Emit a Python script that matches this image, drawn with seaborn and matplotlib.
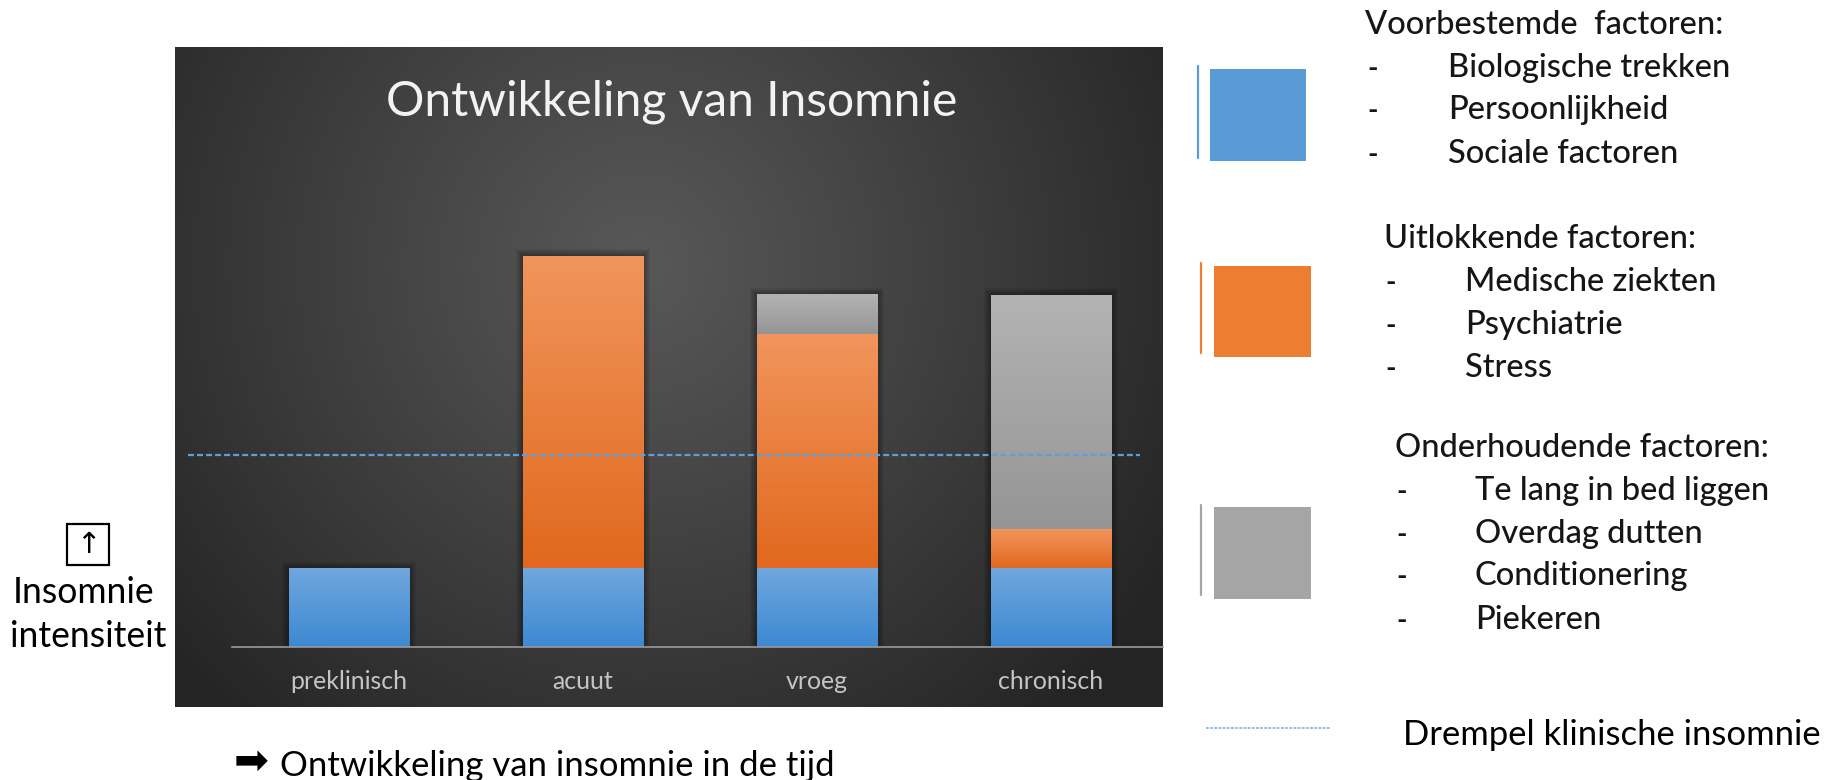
import numpy as np
import pandas as pd
import matplotlib
matplotlib.use("Agg")
import matplotlib.pyplot as plt
import seaborn as sns
from matplotlib.patches import Rectangle
from matplotlib.lines import Line2D

# ---- data -------------------------------------------------------------
stages = ["preklinisch", "acuut", "vroeg", "chronisch"]
voorbestemd = [2, 2, 2, 2]        # predisposing factors
uitlokkend = [0, 8, 6, 1]         # precipitating factors
onderhoudend = [0, 0, 1, 6]       # perpetuating factors
drempel = 4.9                     # clinical insomnia threshold

chart_title = "Ontwikkeling van Insomnie"
legend_blocks = [
    ("Voorbestemde  factoren:", ["Biologische trekken", "Persoonlijkheid", "Sociale factoren"]),
    ("Uitlokkende factoren:", ["Medische ziekten", "Psychiatrie", "Stress"]),
    ("Onderhoudende factoren:", ["Te lang in bed liggen", "Overdag dutten", "Conditionering", "Piekeren"]),
]
drempel_label = "Drempel klinische insomnie"
y_label_lines = ["Insomnie", "intensiteit"]
x_caption = "Ontwikkeling van insomnie in de tijd"

# ---- style --------------------------------------------------------------
BLUE, ORANGE, GRAY = "#5B9BD5", "#ED7D31", "#A5A5A5"
grad = {
    "blue": ("#70A7DD", "#3C89D3"),
    "orange": ("#F1955C", "#E1681E"),
    "gray": ("#B3B3B3", "#959595"),
}

W, H = 1841, 780
sns.set_theme(style="white")
plt.rcParams["font.family"] = ["Lato", "DejaVu Sans"]
plt.rcParams["lines.scale_dashes"] = False

fig = plt.figure(figsize=(W / 100, H / 100), dpi=100, facecolor="white")
renderer = fig.canvas.get_renderer()


def fx(x):
    return x / W


def fy(y):
    return 1 - y / H


def fit(t, width_px):
    w = t.get_window_extent(renderer).width
    t.set_fontsize(t.get_fontsize() * width_px / w)
    return t


# ---- dark panel with radial gradient ------------------------------------
pl, pr, pt, pb = 175, 1163, 47, 707
bg = fig.add_axes([fx(pl), fy(pb), fx(pr) - fx(pl), fy(pt) - fy(pb)])
yy, xx = np.mgrid[0:1:400j, 0:1:600j]
r = np.sqrt(((xx - 0.47) * (pr - pl)) ** 2 + ((yy - 0.33) * (pb - pt)) ** 2) / 620
r = np.clip(r, 0, 1)
inner = np.array([88, 88, 88]) / 255
outer = np.array([36, 36, 36]) / 255
img = inner + (outer - inner) * (r[..., None] ** 1.05)
bg.imshow(img, extent=[0, 1, 0, 1], origin="upper", aspect="auto")
bg.set_axis_off()

# ---- bar chart ------------------------------------------------------------
px_per_unit = 39.1
base_px = 647
ymax = 12
ax = fig.add_axes([fx(232), fy(base_px), fx(pr) - fx(232),
                   fy(base_px - ymax * px_per_unit) - fy(base_px)])
ax.patch.set_alpha(0)

df = pd.DataFrame({"stage": stages, "voorbestemd": voorbestemd,
                   "uitlokkend": uitlokkend, "onderhoudend": onderhoudend})
df["top1"] = df["voorbestemd"]
df["top2"] = df["top1"] + df["uitlokkend"]
df["top3"] = df["top2"] + df["onderhoudend"]

bar_w = 0.513
layers = [("top3", "top2", GRAY, "gray"),
          ("top2", "top1", ORANGE, "orange"),
          ("top1", None, BLUE, "blue")]
segments = []
for top_col, bot_col, col, key in layers:
    n0 = len(ax.patches)
    sns.barplot(data=df, x="stage", y=top_col, color=col, width=bar_w,
                order=stages, ax=ax, saturation=1, linewidth=0, zorder=3)
    new = ax.patches[n0:]
    tops = df[top_col].to_numpy()
    bots = df[bot_col].to_numpy() if bot_col else np.zeros(len(df))
    for p, t, b in zip(new, tops, bots):
        if t - b > 0:
            segments.append((p.get_x(), p.get_width(), b, t, key))

# soft shadow around each full bar
dx = 1 / 234
dy = 1 / px_per_unit
for i, total in enumerate(df["top3"]):
    x0 = i - bar_w / 2
    for k in range(1, 8):
        ax.add_patch(Rectangle((x0 - k * dx, 0), bar_w + 2 * k * dx, total + k * dy,
                               facecolor="black", edgecolor="none", alpha=0.05, zorder=2))

# vertical gradient fill on every stacked segment
for x0, w, b, t, key in segments:
    c_top = np.array(matplotlib.colors.to_rgb(grad[key][0]))
    c_bot = np.array(matplotlib.colors.to_rgb(grad[key][1]))
    s = np.linspace(0, 1, 128)[:, None, None]
    g = c_top + (c_bot - c_top) * s
    g = np.repeat(g, 2, axis=1)
    ax.imshow(g, extent=[x0, x0 + w, b, t], origin="upper", aspect="auto", zorder=4)

ax.set_xlim(-0.5, -0.5 + (pr - 232) / 234)
ax.set_ylim(0, ymax)
ax.set_xlabel("")
ax.set_ylabel("")
ax.set_yticks([])
for side in ["top", "left", "right"]:
    ax.spines[side].set_visible(False)
ax.spines["bottom"].set_color("#9A9A9A")
ax.spines["bottom"].set_linewidth(1.2)
ax.spines["bottom"].set_zorder(5)
ax.tick_params(axis="x", length=0, pad=16.5, colors="#C4C4C4")
for lab in ax.get_xticklabels():
    lab.set_fontsize(15)
    lab.set_color("#C4C4C4")
fit(ax.get_xticklabels()[0], 117)
fs_tick = ax.get_xticklabels()[0].get_fontsize()
for lab in ax.get_xticklabels():
    lab.set_fontsize(fs_tick)

# threshold line
ax.hlines(drempel, -0.5 - 44 / 234, 3 + 89 / 234, colors="#5E9FDB", lw=1.6,
          linestyles=(0, (4.3, 2.2)), clip_on=False, zorder=6)

# chart title
t = fig.text(fx(672), fy(115), chart_title, ha="center", va="baseline",
             color="#F2F2F2", fontsize=30)
fit(t, 572)

# ---- left axis annotation ---------------------------------------------
fig.add_artist(Rectangle((fx(67), fy(565)), fx(109) - fx(67), fy(524) - fy(565),
                         transform=fig.transFigure, facecolor="none",
                         edgecolor="black", lw=1.6))
fig.text(fx(88), fy(545), "\u2191", ha="center", va="center", fontsize=21,
         color="black", family=["DejaVu Sans"])
t1 = fig.text(fx(84), fy(603), y_label_lines[0], ha="center", va="baseline",
              color="black", fontsize=22)
t2 = fig.text(fx(88), fy(647), y_label_lines[1], ha="center", va="baseline",
              color="black", fontsize=22)
fit(t2, 156)
t1.set_fontsize(t2.get_fontsize())

# ---- bottom caption -------------------------------------------------------
fig.text(fx(234), fy(774), "\u27A1", ha="left", va="baseline", fontsize=30,
         color="black", family=["DejaVu Sans"])
tc = fig.text(fx(280), fy(776), x_caption, ha="left", va="baseline",
              color="black", fontsize=22)
fit(tc, 552)

# ---- right-hand key -------------------------------------------------------
swatches = [  # (line x, line y0, y1, square x0, x1, y0, y1, colour)
    (1198, 66, 158, 1210, 1306, 69, 161, BLUE),
    (1201, 263, 353, 1214, 1311, 266, 357, ORANGE),
    (1201, 505, 595, 1214, 1311, 507, 599, GRAY),
]
for lx, ly0, ly1, sx0, sx1, sy0, sy1, col in swatches:
    fig.add_artist(Line2D([fx(lx), fx(lx)], [fy(ly0), fy(ly1)],
                          transform=fig.transFigure, color=col, lw=1.6))
    fig.add_artist(Rectangle((fx(sx0), fy(sy1)), fx(sx1) - fx(sx0), fy(sy0) - fy(sy1),
                             transform=fig.transFigure, facecolor=col, edgecolor="none"))

block_layout = [  # header x, header baseline, dash x, item x, item baselines
    (1365, 34, 1367, 1448, [77, 119, 163]),
    (1384, 248, 1385, 1465, [291, 334, 377]),
    (1395, 457, 1396, 1475, [500, 543, 585, 629]),
]
item_widths = [
    [354, 277, 226, 233],
    [313, 246, 161, 87],
    [377, 296, 222, 218, 124],
]
legend_texts = []
sizes = []
for (header, items), (hx, hb, dxp, ix, ibs), widths in zip(legend_blocks, block_layout, item_widths):
    th = fig.text(fx(hx), fy(hb), header, ha="left", va="baseline",
                  color="#161616", fontsize=20, fontweight="medium")
    fit(th, widths[0])
    sizes.append(th.get_fontsize())
    legend_texts.append(th)
    for it, ib, wd in zip(items, ibs, widths[1:]):
        fig.text(fx(dxp), fy(ib), "-", ha="left", va="baseline",
                 color="#161616", fontsize=20, fontweight="bold")
        ti = fig.text(fx(ix), fy(ib), it, ha="left", va="baseline",
                      color="#161616", fontsize=20, fontweight="medium")
        fit(ti, wd)
        sizes.append(ti.get_fontsize())
        legend_texts.append(ti)
fs_leg = float(np.median(sizes))
for ti in legend_texts:
    ti.set_fontsize(fs_leg)

fig.add_artist(Line2D([fx(1206), fx(1331)], [fy(728), fy(728)],
                      transform=fig.transFigure, color="#7FB2E3", lw=1.2,
                      linestyle=(0, (2.0, 1.0))))
td = fig.text(fx(1403), fy(745), drempel_label, ha="left", va="baseline",
              color="black", fontsize=22)
fit(td, 416)

fig.savefig("out.png", dpi=100, facecolor="white")
